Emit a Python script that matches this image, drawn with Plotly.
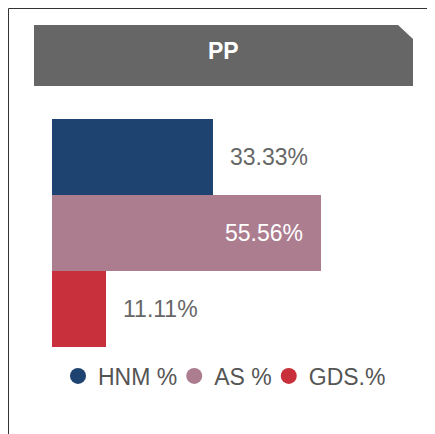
import plotly.graph_objects as go

categories = ["HNM %", "AS %", "GDS.%"]
values = [33.33, 55.56, 11.11]
colors = ["#1f4371", "#ab7d8f", "#c8313b"]
label_colors = ["#666666", "#ffffff", "#666666"]
label_inside = [False, True, False]
title_text = "PP"

W, H = 435, 434
OFF = 8  # page body margin
L, R, T, B = 52 - OFF, 391 - OFF, 119 - OFF, 347 - OFF
xmax = 70.0

def px(x):
    return (x - OFF - L) / (R - L)

def py(y):
    return (B - (y - OFF)) / (B - T)

fig = go.Figure()
for cat, v, c in zip(categories, values, colors):
    fig.add_trace(go.Bar(x=[v], y=[cat], orientation="h", marker=dict(color=c, line=dict(width=0)),
                         showlegend=False, hoverinfo="skip"))
for cat, c in zip(categories, colors):
    fig.add_trace(go.Scatter(x=[None], y=[None], mode="markers", name=cat,
                             marker=dict(symbol="circle", size=16, color=c)))

FONT = "Liberation Sans, Arial"
annotations = []
for cat, v, lc, ins in zip(categories, values, label_colors, label_inside):
    annotations.append(dict(x=v, y=cat, xref="x", yref="y", text=f"{v:.2f}%", showarrow=False,
                            xanchor="right" if ins else "left", xshift=-16 if ins else 15,
                            font=dict(family=FONT, size=23, color=lc)))
annotations.append(dict(x=px(223), y=py(51), xref="paper", yref="paper", text=f"<b>{title_text}</b>",
                        showarrow=False, xanchor="center", yanchor="middle",
                        font=dict(family=FONT, size=23, color="#ffffff")))

hx0, hx1, hy0, hy1 = px(34), px(413), py(25), py(86)
hcx, hcy = px(398), py(39)
shapes = [
    dict(type="path", xref="paper", yref="paper",
         path=f"M {hx0} {hy1} L {hx0} {hy0} L {hcx} {hy0} L {hx1} {hcy} L {hx1} {hy1} Z",
         fillcolor="#666666", line=dict(width=0), layer="below"),
    dict(type="line", xref="paper", yref="paper", x0=px(8.5), x1=px(450), y0=py(8.5), y1=py(8.5),
         line=dict(color="#333333", width=1)),
    dict(type="line", xref="paper", yref="paper", x0=px(8.5), x1=px(8.5), y0=py(8.5), y1=py(450),
         line=dict(color="#333333", width=1)),
]

fig.update_layout(
    width=W, height=H, margin=dict(l=L, r=W - R, t=T, b=H - B, pad=0, autoexpand=False),
    paper_bgcolor="#ffffff", plot_bgcolor="#ffffff",
    barmode="overlay", bargap=0,
    xaxis=dict(range=[0, xmax], visible=False, fixedrange=True),
    yaxis=dict(categoryorder="array", categoryarray=categories[::-1], visible=False, fixedrange=True),
    showlegend=True,
    legend=dict(orientation="h", x=px(66), y=py(376), xanchor="left", yanchor="middle",
                font=dict(family=FONT, size=23, color="#555555"), indentation=-8,
                itemwidth=30, tracegroupgap=0, bgcolor="rgba(0,0,0,0)"),
    annotations=annotations, shapes=shapes,
)
fig.write_html("out.html")
